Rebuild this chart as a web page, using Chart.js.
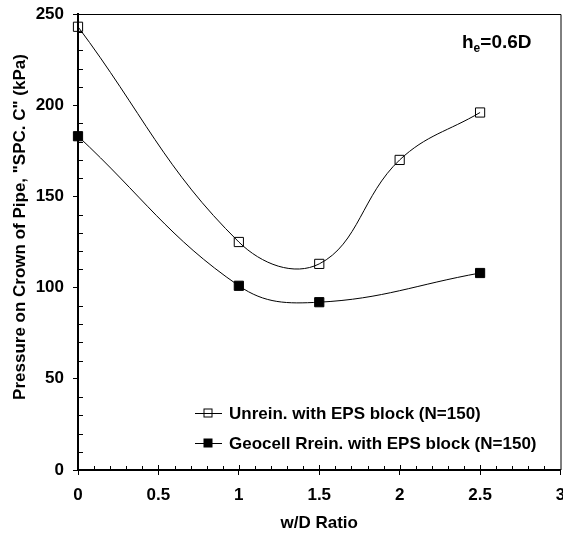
<!DOCTYPE html>
<html>
<head>
<meta charset="utf-8">
<script src="https://cdn.jsdelivr.net/npm/chart.js@4"></script>
<style>
  html, body { margin: 0; padding: 0; background: #fff; overflow: hidden; }
  #wrap { width: 568px; height: 535px; }
</style>
</head>
<body>
<div id="wrap"><canvas id="pipeChart" width="568" height="535"></canvas></div>
<script>
// values
const seriesNames = ['Unrein. with EPS block (N=150)', 'Geocell Rrein. with EPS block (N=150)'];
const unreinX = [0, 1, 1.5, 2, 2.5];
const unreinY = [243, 125, 113, 170, 196];
const geocellX = [0, 1, 1.5, 2.5];
const geocellY = [183, 101, 92, 108];
const xTicks = [0, 0.5, 1, 1.5, 2, 2.5, 3];
const yTicks = [0, 50, 100, 150, 200, 250];
const yTitle = 'Pressure on Crown of Pipe, "SPC. C" (kPa)';

const FONT = 'Liberation Sans, Arial, sans-serif';

function toPoints(xs, ys) {
  return xs.map((x, i) => ({ x: x, y: ys[i] }));
}

// top/right frame, minor ticks, y title, legend and the h_e note
const extras = {
  id: 'extras',
  afterDraw(chart) {
    const ctx = chart.ctx;
    const a = chart.chartArea;
    const xs = chart.scales.x, ys = chart.scales.y;
    ctx.save();
    ctx.strokeStyle = '#000';
    ctx.lineWidth = 1;
    ctx.beginPath();
    ctx.moveTo(a.left, a.top + 0.5);
    ctx.lineTo(a.right + 0.5, a.top + 0.5);
    ctx.lineTo(a.right + 0.5, a.bottom);
    ctx.stroke();

    // minor ticks inside the plot
    ctx.beginPath();
    for (let v = 10; v < 250; v += 10) {
      if (v % 50 === 0) continue;
      const py = Math.round(ys.getPixelForValue(v)) + 0.5;
      ctx.moveTo(a.left, py);
      ctx.lineTo(a.left + 5, py);
    }
    for (let k = 1; k < 30; k++) {
      const px = Math.round(xs.getPixelForValue(k / 10)) + 0.5;
      ctx.moveTo(px, a.bottom);
      ctx.lineTo(px, a.bottom - (k % 5 === 0 ? 5 : 4));
    }
    ctx.stroke();

    ctx.fillStyle = '#000';

    // y axis title (sits a bit above the plot centre in the original)
    ctx.save();
    ctx.translate(20, 227);
    ctx.rotate(-Math.PI / 2);
    ctx.font = 'bold 17px ' + FONT;
    ctx.textAlign = 'center';
    ctx.textBaseline = 'middle';
    ctx.fillText(yTitle, 0, 0);
    ctx.restore();

    // legend inside the plot
    ctx.font = 'bold 17px ' + FONT;
    ctx.textBaseline = 'middle';
    const rows = [413, 443];
    chart.data.datasets.forEach((ds, i) => {
      const y = rows[i];
      ctx.beginPath();
      ctx.moveTo(195, y + 0.5);
      ctx.lineTo(222, y + 0.5);
      ctx.stroke();
      const s = 9;
      if (ds.pointBackgroundColor === '#000') {
        ctx.fillRect(208 - s / 2, y - s / 2, s, s);
      } else {
        ctx.strokeRect(208 - s / 2 + 0.5, y - s / 2 + 0.5, s - 1, s - 1);
      }
      ctx.fillText(ds.label, 229, y + 1);
    });

    // h_e = 0.6D
    ctx.textBaseline = 'alphabetic';
    let x = 462;
    ctx.font = 'bold 19px ' + FONT;
    ctx.fillText('h', x, 48);
    x += ctx.measureText('h').width;
    ctx.font = 'bold 12px ' + FONT;
    ctx.fillText('e', x, 52);
    x += ctx.measureText('e').width;
    ctx.font = 'bold 19px ' + FONT;
    ctx.fillText('=0.6D', x, 48);
    ctx.restore();
  }
};

const ctx = document.getElementById('pipeChart').getContext('2d');
const pipeChart = new Chart(ctx, {
  type: 'line',
  data: {
    datasets: [{
      label: seriesNames[0],
      data: toPoints(unreinX, unreinY),
      borderColor: '#000',
      borderWidth: 1,
      pointStyle: 'rect',
      pointRadius: 6.5,
      pointBorderWidth: 1,
      pointBorderColor: '#000',
      pointBackgroundColor: 'rgba(0,0,0,0)',
      tension: 0.4,
      fill: false,
      clip: false
    }, {
      label: seriesNames[1],
      data: toPoints(geocellX, geocellY),
      borderColor: '#000',
      borderWidth: 1,
      pointStyle: 'rect',
      pointRadius: 6.5,
      pointBorderWidth: 1,
      pointBorderColor: '#000',
      pointBackgroundColor: '#000',
      tension: 0.4,
      fill: false,
      clip: false
    }]
  },
  options: {
    responsive: false,
    animation: false,
    devicePixelRatio: 1,
    layout: { padding: { top: 14, right: 0, left: 0, bottom: 0 } },
    plugins: {
      legend: { display: false },
      tooltip: { enabled: false }
    },
    scales: {
      x: {
        type: 'linear',
        min: 0,
        max: 3,
        afterBuildTicks: (s) => { s.ticks = xTicks.map(v => ({ value: v })); },
        afterFit: (s) => { s.height = 65; s.paddingLeft = 0; s.paddingRight = 0; },
        ticks: {
          color: '#000',
          padding: 10,
          font: { family: FONT, size: 17, weight: 'bold' },
          callback: (v) => String(v)
        },
        grid: { drawOnChartArea: false, tickLength: 5, color: '#000' },
        border: { color: '#000', width: 2 },
        title: {
          display: true,
          text: 'w/D Ratio',
          color: '#000',
          padding: { top: 2, bottom: 1 },
          font: { family: FONT, size: 17, weight: 'bold' }
        }
      },
      y: {
        min: 0,
        max: 250,
        afterBuildTicks: (s) => { s.ticks = yTicks.map(v => ({ value: v })); },
        afterFit: (s) => { s.width = 78; s.paddingTop = 0; s.paddingBottom = 0; },
        ticks: {
          color: '#000',
          padding: 9,
          font: { family: FONT, size: 17, weight: 'bold' },
          callback: (v) => String(v)
        },
        grid: { drawOnChartArea: false, tickLength: 5, color: '#000' },
        border: { color: '#000', width: 2 }
      }
    }
  },
  plugins: [extras]
});
</script>
</body>
</html>
